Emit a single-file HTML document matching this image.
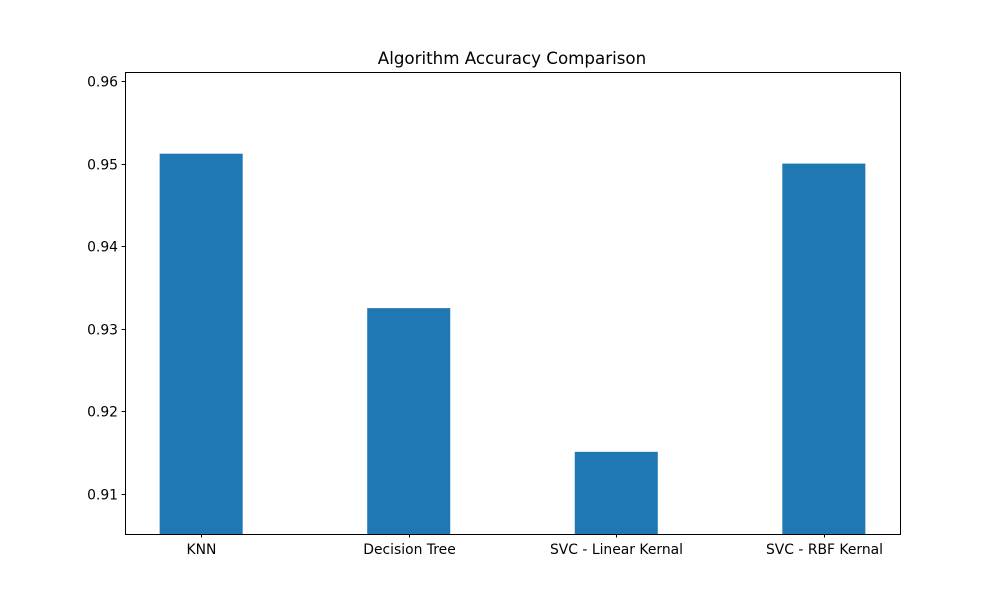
<!DOCTYPE html>
<html><head><meta charset="utf-8"><style>
html,body{margin:0;padding:0;background:#fff;}
svg text{font-family:"DejaVu Sans","Liberation Sans",sans-serif;}
</style></head><body>
<svg id="chart" width="1000" height="600" xmlns="http://www.w3.org/2000/svg">
<rect width="1000" height="600" fill="#fff"/>
<text x="512" y="64" text-anchor="middle" font-size="16.7" fill="#000">Algorithm Accuracy Comparison</text>
<g id="bars"></g>
<g id="yaxis"></g>
<g id="xaxis"></g>
<rect x="125.5" y="72.5" width="775" height="462" fill="none" stroke="#000" stroke-width="1"/>
</svg>
<script>
const categories = ["KNN", "Decision Tree", "SVC - Linear Kernal", "SVC - RBF Kernal"];
const accuracies = [0.9512, 0.9325, 0.9151, 0.9500];
const yTicks = [0.91, 0.92, 0.93, 0.94, 0.95, 0.96];
const yTickLabels = ["0.91", "0.92", "0.93", "0.94", "0.95", "0.96"];

const L=125, R=900, T=72, B=534;
const yMin=0.90515, yMax=0.96109, xMin=-0.367, xMax=3.367, barW=0.4;
const NS="http://www.w3.org/2000/svg";
function y(v){return B-(v-yMin)/(yMax-yMin)*(B-T);}
function x(i){return L+(i-xMin)/(xMax-xMin)*(R-L);}
function mk(tag,attrs,parent){const e=document.createElementNS(NS,tag);for(const k in attrs)e.setAttribute(k,attrs[k]);parent.appendChild(e);return e;}
const gb=document.getElementById('bars'), gy=document.getElementById('yaxis'), gx=document.getElementById('xaxis');
accuracies.forEach((v,i)=>{
  const x0=x(i-barW/2), x1=x(i+barW/2), top=Math.max(y(v),T);
  const r=mk('rect',{x:x0,y:top,width:x1-x0,height:B-top,fill:'#1f77b4'},gb);
  
  
});
yTicks.forEach((t,i)=>{
  const yy=Math.round(y(t))+0.5;
  const l=mk('line',{x1:L-3.5,x2:L,y1:yy,y2:yy,stroke:'#000'},gy);
  
  
  const tx=mk('text',{x:L-7,y:yy+5,'text-anchor':'end','font-size':'13.9',fill:'#000'},gy);
  tx.textContent=yTickLabels[i];
  
  
});
categories.forEach((c,i)=>{
  const xx=Math.round(x(i))+0.5;
  const l=mk('line',{x1:xx,x2:xx,y1:B,y2:B+3.5,stroke:'#000'},gx);
  
  
  const tx=mk('text',{x:xx,y:B+20,'text-anchor':'middle','font-size':'13.9',fill:'#000'},gx);
  tx.textContent=c;
  
  
});
</script>
</body></html>
